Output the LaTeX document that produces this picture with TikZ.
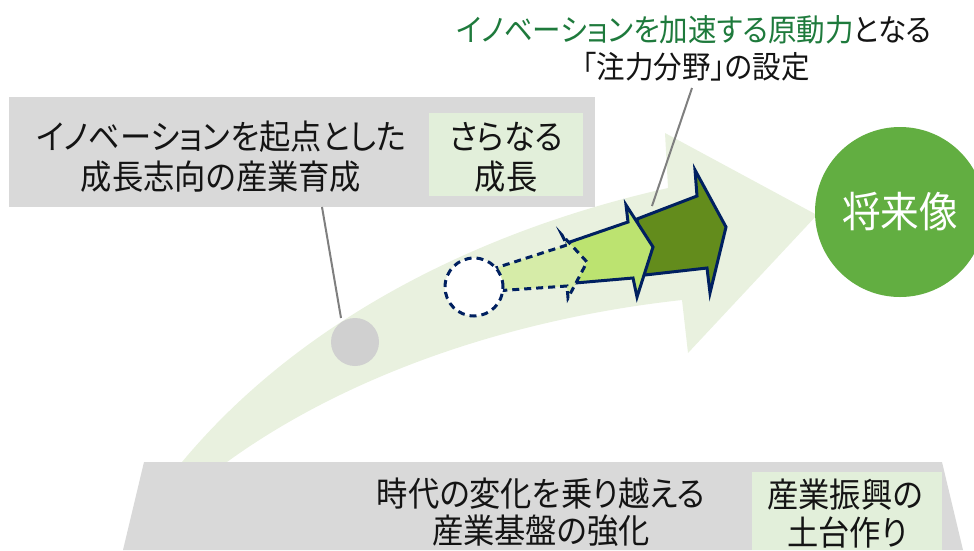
\documentclass[tikz,border=0pt]{standalone}
\usepackage{fontspec}
\setmainfont{Noto Sans CJK JP}[RawFeature=+palt, FakeStretch=0.92]
\definecolor{boxgray}{RGB}{217,217,217}
\definecolor{boxgreen}{RGB}{226,239,218}
\definecolor{bandgreen}{RGB}{233,241,223}
\definecolor{dotgray}{RGB}{208,208,208}
\definecolor{futuregreen}{RGB}{98,174,65}
\definecolor{darkarrow}{RGB}{99,140,28}
\definecolor{midarrow}{RGB}{188,227,112}
\definecolor{dasharrow}{RGB}{214,236,168}
\definecolor{navy}{RGB}{0,32,96}
\definecolor{leadergray}{RGB}{127,127,127}
\definecolor{titlegreen}{RGB}{30,122,60}
\definecolor{txt}{RGB}{20,20,20}
\tikzset{
  bigtext/.style={inner sep=0pt, text=txt, font=\fontsize{34}{40}\selectfont},
  notetext/.style={inner sep=0pt, text=txt, font=\fontsize{31}{36}\selectfont},
  leader/.style={draw=leadergray, line width=2pt},
  solidarrow/.style={draw=navy, line width=3pt, line join=miter},
  dasharrowstyle/.style={draw=navy, line width=3pt, dash pattern=on 7pt off 5pt},
}
\begin{document}
\begin{tikzpicture}[x=1pt,y=-1pt]
\useasboundingbox (0,0) rectangle (974,550);
% big curved band arrow
\fill[bandgreen] (182,462) .. controls (300,320) and (480,230) .. (668,188)
  -- (665,133) -- (817,215) -- (688,353) -- (682,300)
  .. controls (500,320) and (340,380) .. (227,462) -- cycle;
% top-left box
\fill[boxgray] (9,97) rectangle (595,207);
\fill[boxgreen] (429,113) rectangle (583,196);
% bottom trapezoid
\fill[boxgray] (144,462) -- (942,462) -- (963,550) -- (123,550) -- cycle;
\fill[boxgreen] (752,472) rectangle (942,550);
% gray start dot
\node[circle, fill=dotgray, minimum size=48pt, inner sep=0pt] (gdot) at (355,342) {};
% leader lines
\coordinate (l1a) at (322,207);
\coordinate (l1b) at (341,318);
\draw[leader] (l1a) -- (l1b);
\coordinate (l2a) at (692,88);
\coordinate (l2b) at (652,206);
\draw[leader] (l2a) -- (l2b);
% dark arrow
\filldraw[fill=darkarrow, solidarrow] (637,219) -- (697,196) -- (695,170) -- (726,227)
  -- (710,293) -- (707,268) -- (645,275) -- cycle;
% middle arrow
\filldraw[fill=midarrow, solidarrow] (567,243) -- (628,222) -- (626,205) -- (653,247)
  -- (637,297) -- (633,278) -- (575,283) -- cycle;
% dashed arrow
\filldraw[fill=dasharrow, dasharrowstyle] (480,273) -- (567,245) -- (562,235) -- (587,262)
  -- (568,298) -- (567,286) -- (480,292) -- cycle;
% dashed circle
\node[circle, fill=white, dasharrowstyle, minimum size=58pt, inner sep=0pt] (dcirc) at (474,287) {};
% future circle
\node[circle, fill=futuregreen, minimum size=170pt, inner sep=0pt, text=white,
  font=\fontsize{42}{46}\selectfont] (future) at (900,212) {将来像};
% texts
\node[bigtext] (tl1) at (221,137) {イノベーションを起点とした};
\node[bigtext] (tl2) at (221,177) {成長志向の産業育成};
\node[bigtext] (tg1) at (506,137) {さらなる};
\node[bigtext] (tg2) at (506,177) {成長};
\node[notetext] (n1) at (694,30) {\textcolor{titlegreen}{イノベーションを加速する原動力}となる};
\node[notetext] (n2) at (696,67) {「注力分野」の設定};
\node[bigtext] (b1) at (541,494) {時代の変化を乗り越える};
\node[bigtext] (b2) at (541,531) {産業基盤の強化};
\node[bigtext] (bg1) at (845,495) {産業振興の};
\node[bigtext] (bg2) at (847,532) {土台作り};
\end{tikzpicture}
\end{document}
